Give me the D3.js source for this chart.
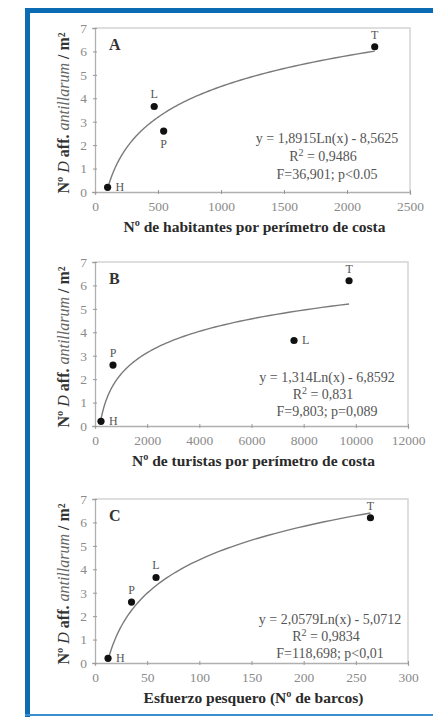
<!DOCTYPE html>
<html>
<head>
<meta charset="utf-8">
<script src="https://cdn.jsdelivr.net/npm/d3@7"></script>
<style>
  html, body { margin: 0; padding: 0; background: #fff; }
  svg { display: block; }
  text { font-family: "Liberation Serif", "Times New Roman", serif; }
</style>
</head>
<body>
<svg id="chart" width="433" height="717"></svg>
<script>
// Sampling sites and sea-urchin density (ind./m²)
const sites = ["H", "L", "P", "T"];
const densidad = [0.2, 3.65, 2.6, 6.2];

// Explanatory variables per site (same order as sites)
const habitantes = [100, 470, 545, 2220];
const turistas = [230, 7630, 690, 9740];
const barcos = [12.5, 58.5, 35, 264];

// Logarithmic fits y = a·ln(x) + b
const slopes = [1.8915, 1.314, 2.0579];
const intercepts = [-8.5625, -6.8592, -5.0712];

// Printed fit statistics
const eqLines = ["y = 1,8915Ln(x) - 8,5625", "y = 1,314Ln(x) - 6,8592", "y = 2,0579Ln(x) - 5,0712"];
const r2Lines = ["0,9486", "0,831", "0,9834"];
const fLines = ["F=36,901; p<0.05", "F=9,803; p=0,089", "F=118,698; p<0,01"];

// Axes
const panelLetters = ["A", "B", "C"];
const xTitles = ["Nº de habitantes por perímetro de costa", "Nº de turistas por perímetro de costa", "Esfuerzo pesquero (Nº de barcos)"];
const xMax = [2500, 12000, 300];
const xTicksA = [0, 500, 1000, 1500, 2000, 2500];
const xTicksB = [0, 2000, 4000, 6000, 8000, 10000, 12000];
const xTicksC = [0, 50, 100, 150, 200, 250, 300];
const yTicks = [0, 1, 2, 3, 4, 5, 6, 7];

// Where each site letter sits relative to its point, per panel
const labelSideA = ["right", "above", "below", "above"];
const labelSideB = ["right", "right", "above", "above"];
const labelSideC = ["right", "above", "above", "above"];

const xValues = [habitantes, turistas, barcos];
const xTicks = [xTicksA, xTicksB, xTicksC];
const labelSides = [labelSideA, labelSideB, labelSideC];

const svg = d3.select("#chart");

// Blue frame
svg.append("rect").attr("x", 25).attr("y", 8).attr("width", 420).attr("height", 5).attr("fill", "#0b6bb3");
svg.append("rect").attr("x", 25).attr("y", 8).attr("width", 5).attr("height", 709).attr("fill", "#0b6bb3");
svg.append("rect").attr("x", 25).attr("y", 714).attr("width", 420).attr("height", 2).attr("fill", "#3a8fd0");

const layout = [
  { left: 95, right: 410, top: 28, bottom: 192 },
  { left: 95, right: 408, top: 262, bottom: 426 },
  { left: 95, right: 408, top: 499, bottom: 663 }
];
const eqPos = [
  { x: 327, y: [143, 161, 179] },
  { x: 327, y: [382, 399, 416] },
  { x: 330, y: [624, 641, 658] }
];

const grey = "#8a8a8a";

layout.forEach((L, i) => {
  const g = svg.append("g");
  const x = d3.scaleLinear().domain([0, xMax[i]]).range([L.left, L.right]);
  const y = d3.scaleLinear().domain([0, 7]).range([L.bottom, L.top]);

  // plot frame (top and right)
  g.append("path")
    .attr("d", `M${L.left},${L.top}H${L.right}V${L.bottom}`)
    .attr("fill", "none").attr("stroke", "#d4d4d4").attr("stroke-width", 1.5);

  // x axis
  const xa = g.append("g").attr("transform", `translate(0,${L.bottom})`)
    .call(d3.axisBottom(x).tickValues(xTicks[i]).tickSize(3).tickPadding(6).tickFormat(d3.format("d")));
  xa.select(".domain").attr("stroke", "#b0b0b0").attr("stroke-width", 1.3);
  xa.selectAll(".tick line").attr("stroke", "#999").attr("y1", -2).attr("y2", 2);
  xa.selectAll(".tick text").attr("fill", grey).style("font-size", "13.5px")
    .style("font-family", "'Liberation Serif', serif");

  // y axis
  const ya = g.append("g").attr("transform", `translate(${L.left},0)`)
    .call(d3.axisLeft(y).tickValues(yTicks).tickSize(3).tickPadding(5).tickFormat(d3.format("d")));
  ya.select(".domain").attr("stroke", "#b0b0b0").attr("stroke-width", 1.3);
  ya.selectAll(".tick line").attr("stroke", "#999").attr("x1", -2).attr("x2", 2);
  ya.selectAll(".tick text").attr("fill", grey).style("font-size", "13.5px")
    .style("font-family", "'Liberation Serif', serif");

  // fitted logarithmic curve between the smallest and largest observed x
  const xs = xValues[i];
  const [x0, x1] = d3.extent(xs);
  const curvePts = d3.range(0, 101).map(k => {
    const xv = x0 * Math.pow(x1 / x0, k / 100);
    return [xv, slopes[i] * Math.log(xv) + intercepts[i]];
  }).filter(p => p[1] >= 0);
  g.append("path")
    .datum(curvePts)
    .attr("fill", "none").attr("stroke", "#7a7a7a").attr("stroke-width", 1.4)
    .attr("d", d3.line().x(d => x(d[0])).y(d => y(d[1])));

  // site points and their letters
  sites.forEach((s, j) => {
    const px = x(xs[j]), py = y(densidad[j]);
    g.append("circle").attr("cx", px).attr("cy", py).attr("r", 3.6).attr("fill", "#111");
    const side = labelSides[i][j];
    let lx = px, ly = py, anchor = "middle";
    if (side === "right") { lx = px + 8; ly = py + 4; anchor = "start"; }
    if (side === "above") { ly = py - 8; }
    if (side === "below") { ly = py + 17; }
    g.append("text").attr("x", lx).attr("y", ly).attr("text-anchor", anchor)
      .attr("fill", "#555").style("font-size", "12px").text(s);
  });

  // panel letter
  g.append("text").attr("x", L.left + 14).attr("y", L.top + 22)
    .style("font-size", "16px").style("font-weight", "bold").attr("fill", "#333").text(panelLetters[i]);

  // fit statistics
  const e = eqPos[i];
  const st = g.append("g").attr("fill", "#555").style("font-size", "14px");
  st.append("text").attr("x", e.x).attr("y", e.y[0]).attr("text-anchor", "middle").text(eqLines[i]);
  const r2 = st.append("text").attr("x", e.x - 4).attr("y", e.y[1]).attr("text-anchor", "middle");
  r2.append("tspan").text("R");
  r2.append("tspan").attr("dy", -5).style("font-size", "10px").text("2");
  r2.append("tspan").attr("dy", 5).text(" = " + r2Lines[i]);
  st.append("text").attr("x", e.x).attr("y", e.y[2]).attr("text-anchor", "middle").text(fLines[i]);

  // x axis title
  g.append("text").attr("x", (L.left + L.right) / 2 + 2).attr("y", L.bottom + 40)
    .attr("text-anchor", "middle").attr("fill", "#2a2a2a")
    .style("font-size", "15.5px").style("font-weight", "bold").text(xTitles[i]);

  // y axis title
  const cy = (L.top + L.bottom) / 2 + 3;
  const yt = g.append("text").attr("transform", `translate(69,${cy}) rotate(-90)`)
    .attr("text-anchor", "middle").attr("fill", "#333").style("font-size", "16px");
  yt.append("tspan").style("font-weight", "bold").text("Nº ");
  yt.append("tspan").style("font-style", "italic").text("D ");
  yt.append("tspan").style("font-weight", "bold").text("aff. ");
  yt.append("tspan").style("font-style", "italic").attr("fill", "#666").text("antillarum");
  yt.append("tspan").style("font-weight", "bold").text(" / m²");
});
</script>
</body>
</html>
